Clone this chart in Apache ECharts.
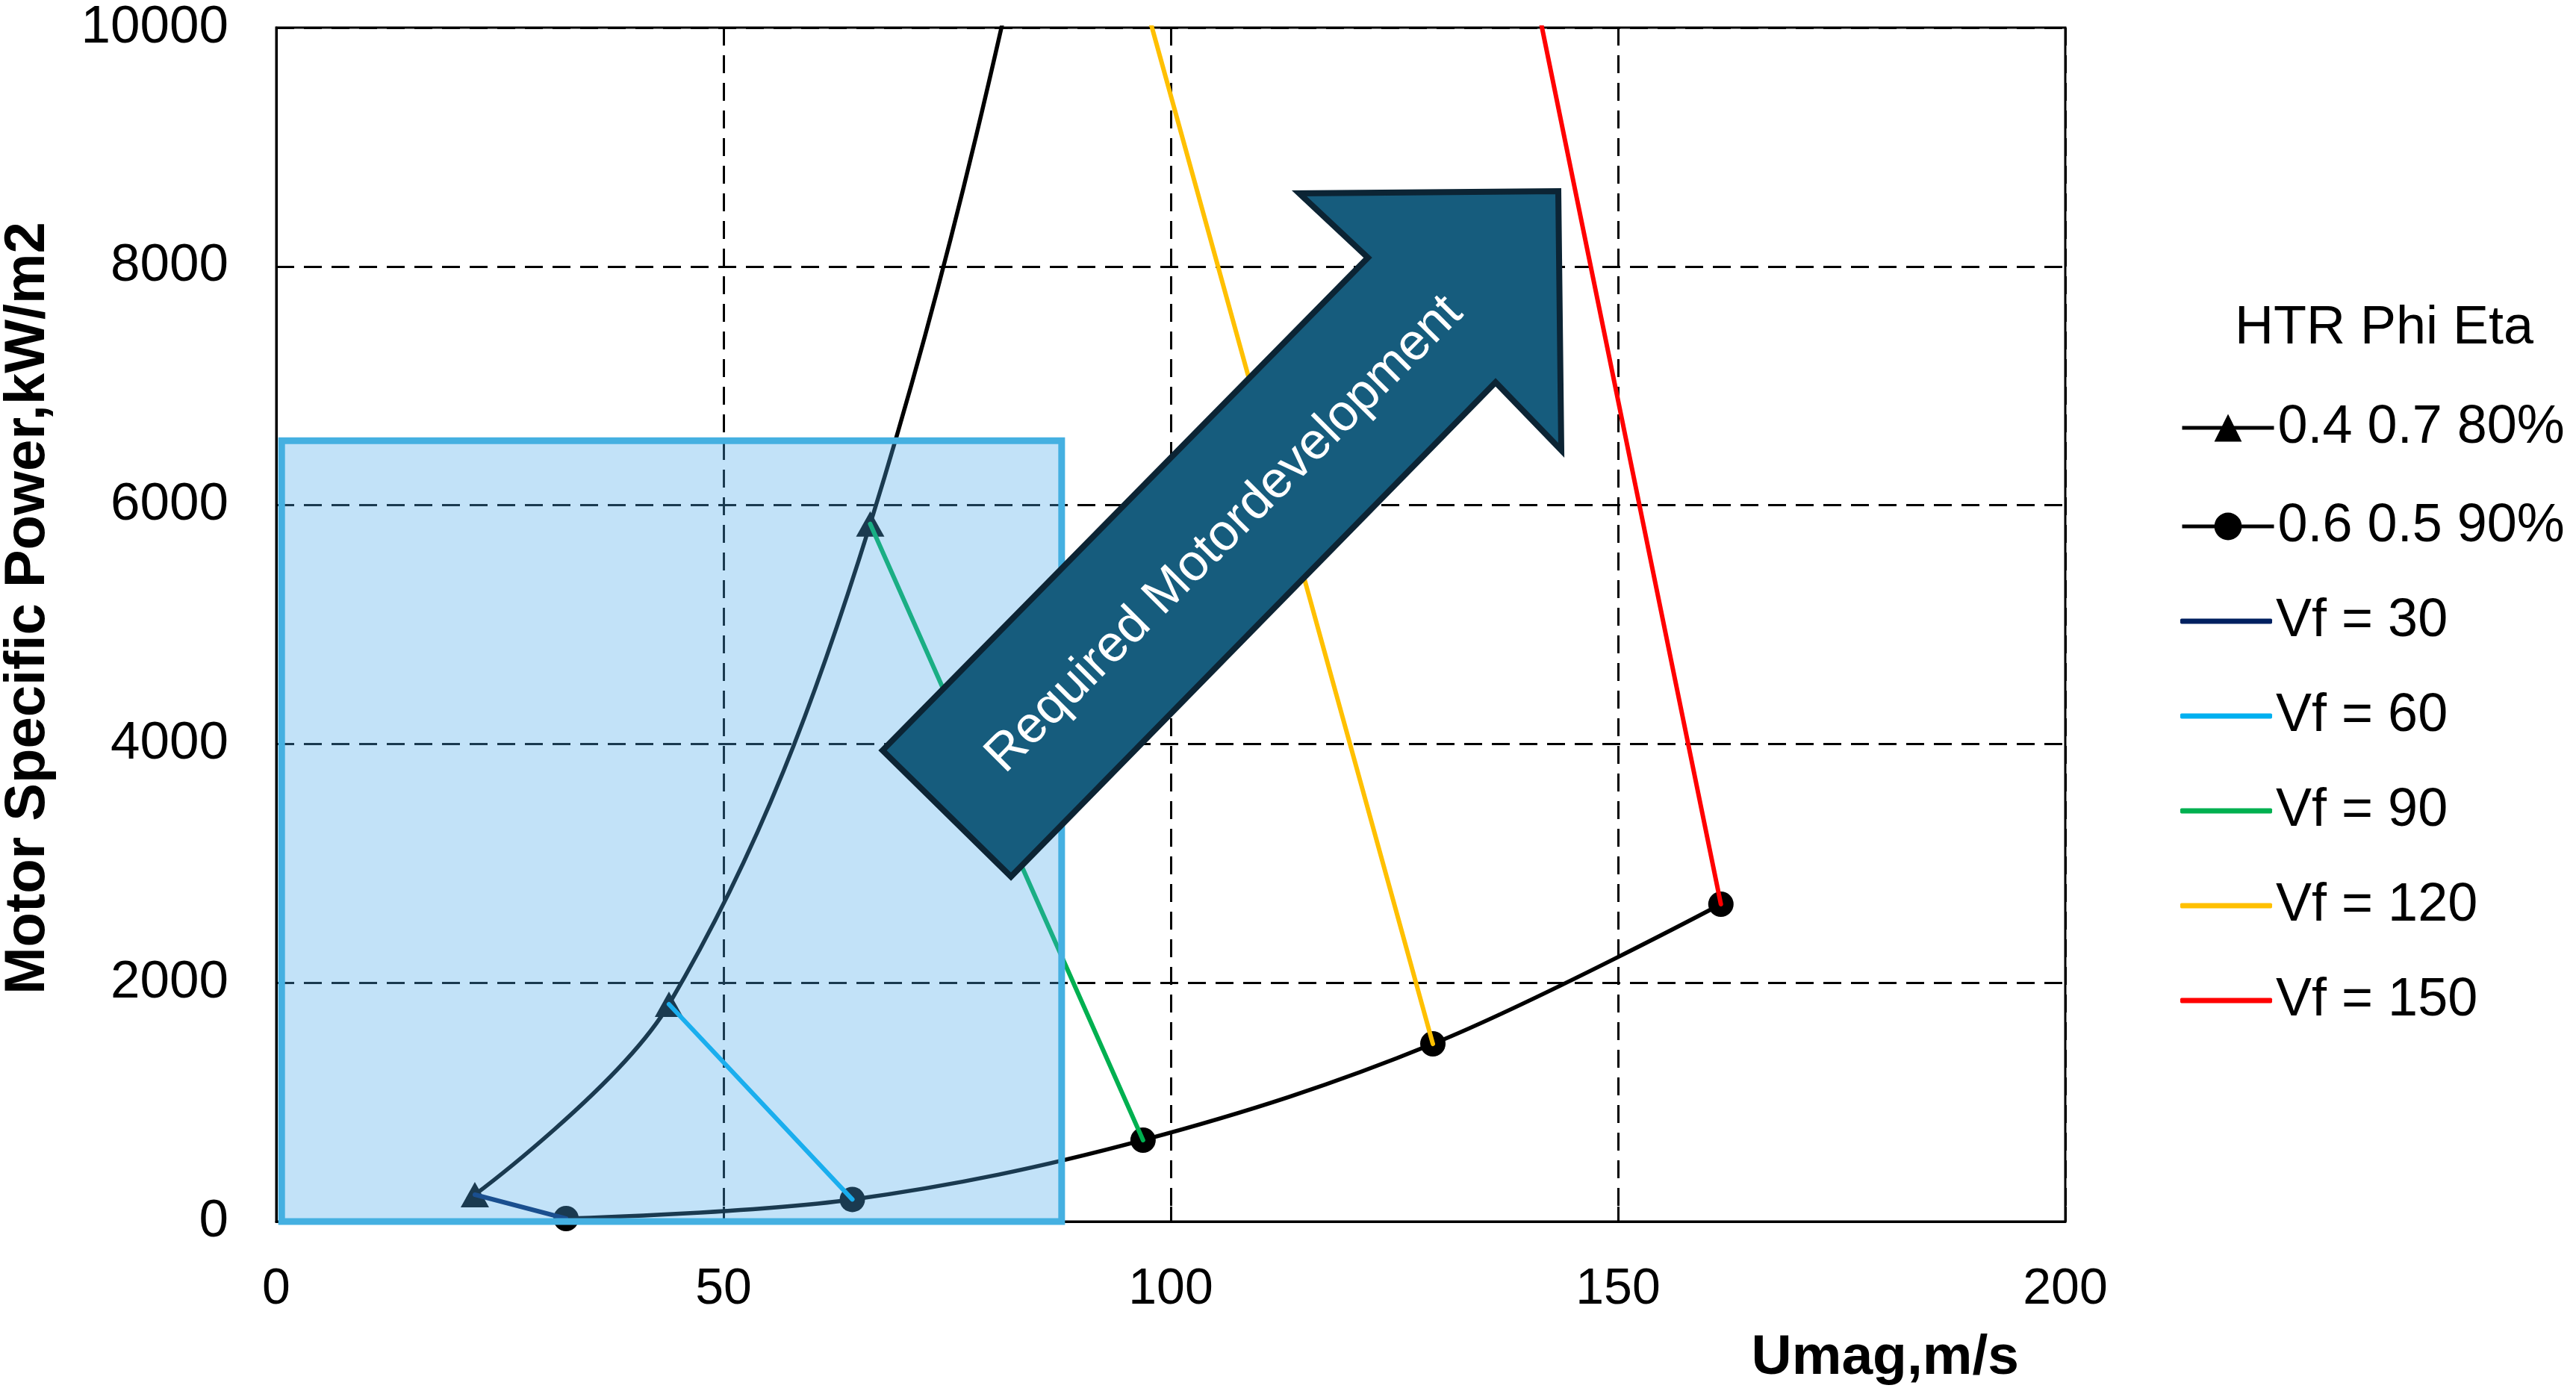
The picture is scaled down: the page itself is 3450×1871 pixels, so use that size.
<!DOCTYPE html>
<html>
<head>
<meta charset="utf-8">
<script src="https://cdn.jsdelivr.net/npm/echarts@6/dist/echarts.min.js"></script>
<style>
html,body{margin:0;padding:0;background:#fff;}
#chart{width:3450px;height:1871px;}
</style>
</head>
<body>
<div id="chart"></div>
<script>
// ---- data ----
const vfValues = [30, 60, 90, 120, 150];
const vfNames = ['Vf = 30', 'Vf = 60', 'Vf = 90', 'Vf = 120', 'Vf = 150'];
const vfColors = ['#002060', '#00b0f0', '#00b050', '#ffc000', '#ff0000'];
const htrA_umag = [22.2, 43.9, 66.4, 88.5, 110.7];      // HTR 0.4, Phi 0.7, Eta 80%
const htrA_power = [225, 1820, 5843, 12549, 21307];
const htrB_umag = [32.4, 64.4, 96.9, 129.3, 161.5];     // HTR 0.6, Phi 0.5, Eta 90%
const htrB_power = [25, 185, 682, 1488, 2658];
const seriesNames = ['0.4 0.7 80%', '0.6 0.5 90%'];
const xTicks = [0, 50, 100, 150, 200];
const yTicks = [0, 2000, 4000, 6000, 8000, 10000];
const legendTitle = 'HTR Phi Eta';
const xAxisName = 'Umag,m/s';
const yAxisName = 'Motor Specific Power,kW/m2';
const regionUmag = [0.6, 87.8];
const regionPower = [-30, 6540];
const arrowLabel = 'Required Motordevelopment';

const FONT = 'Liberation Sans, Arial, Helvetica, sans-serif';

const chart = echarts.init(document.getElementById('chart'), null, {renderer: 'canvas'});

const pairs = (xs, ys) => xs.map((x, i) => [x, ys[i]]);

const series = [
  {
    name: seriesNames[0], type: 'line', data: pairs(htrA_umag, htrA_power),
    smooth: 0.35, symbol: 'triangle', symbolSize: [38, 34], clip: true,
    lineStyle: {color: '#000', width: 5.5}, itemStyle: {color: '#000'}, z: 2
  },
  {
    name: seriesNames[1], type: 'line', data: pairs(htrB_umag, htrB_power),
    smooth: 0.35, symbol: 'circle', symbolSize: 34, clip: true,
    lineStyle: {color: '#000', width: 5.5}, itemStyle: {color: '#000'}, z: 2
  }
];
vfValues.forEach((v, i) => {
  series.push({
    name: vfNames[i], type: 'line',
    data: [[htrA_umag[i], htrA_power[i]], [htrB_umag[i], htrB_power[i]]],
    symbol: 'none', clip: true,
    lineStyle: {color: vfColors[i], width: 6, cap: 'round'},
    itemStyle: {color: vfColors[i]}, z: 3
  });
});
series.push({
  name: 'region', type: 'line', data: [], silent: true,
  markArea: {
    silent: true, z: 5,
    itemStyle: {color: 'rgba(75,170,235,0.34)', borderColor: '#45b0e1', borderWidth: 9},
    data: [[{coord: [regionUmag[0], regionPower[0]]}, {coord: [regionUmag[1], regionPower[1]]}]]
  }
});

const option = {
  animation: false,
  backgroundColor: '#fff',
  textStyle: {fontFamily: FONT},
  title: {
    text: legendTitle, left: 2993, top: 404, padding: 0,
    textStyle: {fontSize: 72, fontWeight: 'normal', color: '#000', fontFamily: FONT}
  },
  legend: [
    {
      orient: 'vertical', left: 2920, top: 537, padding: 0,
      itemWidth: 123, itemHeight: 46, itemGap: 60, selectedMode: false,
      data: seriesNames,
      lineStyle: {width: 5},
      textStyle: {fontSize: 72, color: '#000', fontFamily: FONT}
    },
    {
      orient: 'vertical', left: 2920, top: 796, padding: 0,
      itemWidth: 123, itemHeight: 7, itemGap: 55, selectedMode: false, icon: 'roundRect',
      data: vfNames,
      textStyle: {fontSize: 72, color: '#000', fontFamily: FONT}
    }
  ],
  grid: {
    left: 370, right: 684, top: 37, bottom: 235, containLabel: false, outerBoundsMode: 'none',
    show: true, borderColor: '#000', borderWidth: 3, backgroundColor: 'transparent'
  },
  xAxis: {
    type: 'value', min: xTicks[0], max: xTicks[xTicks.length - 1], interval: 50,
    name: xAxisName, nameLocation: 'end', nameGap: -62,
    nameTextStyle: {fontSize: 75, fontWeight: 'bold', color: '#000', align: 'right', verticalAlign: 'top', padding: [146, 0, 0, 0], fontFamily: FONT},
    axisLine: {show: true, onZero: false, lineStyle: {color: '#000', width: 3}},
    axisTick: {show: true, inside: true, length: 20, lineStyle: {color: '#000', width: 3}},
    axisLabel: {fontSize: 68, color: '#000', margin: 57, fontFamily: FONT, formatter: (v) => String(v)},
    splitLine: {show: true, lineStyle: {color: '#000', width: 3, type: [24, 13]}}
  },
  yAxis: {
    type: 'value', min: yTicks[0], max: yTicks[yTicks.length - 1], interval: 2000,
    name: yAxisName, nameLocation: 'middle', nameGap: 294, nameRotate: 90,
    nameTextStyle: {fontSize: 76, fontWeight: 'bold', color: '#000', fontFamily: FONT, padding: [0, 0, 0, 44]},
    axisLine: {show: true, onZero: false, lineStyle: {color: '#000', width: 3}},
    axisTick: {show: true, inside: true, length: 22, lineStyle: {color: '#000', width: 3}},
    axisLabel: {fontSize: 71, color: '#000', margin: 64, fontFamily: FONT, formatter: (v) => String(v)},
    splitLine: {show: true, lineStyle: {color: '#000', width: 3, type: [24, 13]}}
  },
  series: series,
  graphic: [
    {
      type: 'polygon', z: 100, silent: true,
      shape: {points: [[1182, 1005], [1832, 345], [1740, 259], [2087, 256], [2091, 603], [2003, 512], [1354, 1174]]},
      style: {fill: '#165c7d', stroke: '#0c2434', lineWidth: 8, lineJoin: 'miter'}
    },
    {
      type: 'text', z: 101, silent: true, x: 1640, y: 716, rotation: Math.PI / 4,
      style: {text: arrowLabel, fill: '#fff', fontSize: 69, fontFamily: FONT, align: 'center', verticalAlign: 'middle'}
    }
  ]
};
chart.setOption(option);
</script>
</body>
</html>
